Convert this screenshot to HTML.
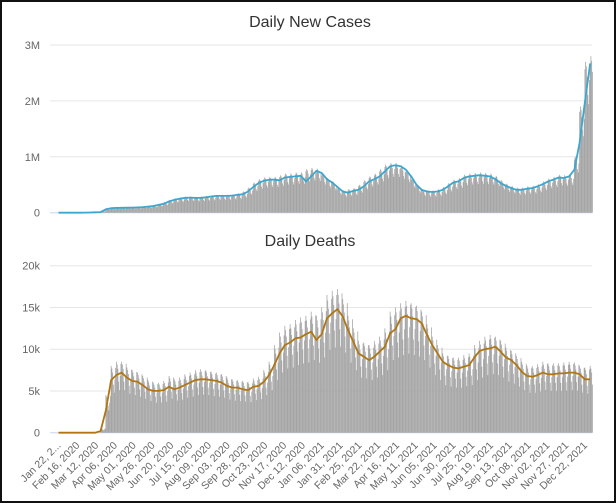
<!DOCTYPE html>
<html><head><meta charset="utf-8"><style>
html,body{margin:0;padding:0;background:#fff;}
#wrap{position:relative;width:612px;height:499px;border:2px solid #111;background:#fff;overflow:hidden;}
svg{position:absolute;left:-2px;top:-2px;}
text{font-family:"Liberation Sans",sans-serif;}
</style></head><body>
<div id="wrap">
<svg id="chart" width="616" height="503"></svg>
</div>
<script>
const dateLabels=["Jan 22, 2...","Feb 16, 2020","Mar 12, 2020","Apr 06, 2020","May 01, 2020","May 26, 2020","Jun 20, 2020","Jul 15, 2020","Aug 09, 2020","Sep 03, 2020","Sep 28, 2020","Oct 23, 2020","Nov 17, 2020","Dec 12, 2020","Jan 06, 2021","Jan 31, 2021","Feb 25, 2021","Mar 22, 2021","Apr 16, 2021","May 11, 2021","Jun 05, 2021","Jun 30, 2021","Jul 25, 2021","Aug 19, 2021","Sep 13, 2021","Oct 08, 2021","Nov 02, 2021","Nov 27, 2021","Dec 22, 2021"];
const casesTicks=[0,1000,2000,3000];
const casesTickLabels=["0","1M","2M","3M"];
const deathTicks=[0,5,10,15,20];
const deathTickLabels=["0","5k","10k","15k","20k"];
// weekly values (thousands), week i starts at day 7*i from Jan 22, 2020
const casesAvg=[0,0,0,0,0,1,3,8,10,60,80,85,88,90,92,95,100,110,120,140,160,200,230,250,265,270,265,265,275,290,300,300,300,305,320,330,380,460,530,570,590,590,580,630,640,650,660,560,650,750,710,600,540,460,380,360,390,410,470,560,600,650,740,830,850,830,770,650,500,410,380,370,380,410,470,540,560,620,650,660,670,660,650,600,530,480,440,410,410,430,440,470,510,560,590,630,620,650,770,1250,1980,2670];
const casesBar=[1,1,2,2,2,3,5,12,30,70,90,95,95,98,100,105,115,125,135,160,190,230,255,270,290,290,285,290,300,310,320,320,320,330,345,380,450,540,600,630,640,640,670,700,700,720,720,780,800,790,700,620,560,450,400,420,440,500,580,650,700,780,860,890,890,840,760,620,500,420,400,400,420,460,530,590,620,680,700,710,720,710,700,660,580,520,480,450,450,470,480,510,560,610,640,680,670,690,1000,1900,2700,2800];
const deathsAvg=[0,0,0,0,0,0,0,0,0.2,2.7,6.3,6.9,7.2,6.6,6.2,6.1,5.7,5.2,5.0,5.0,5.1,5.5,5.2,5.4,5.7,6.0,6.3,6.4,6.4,6.3,6.2,6.0,5.6,5.4,5.4,5.2,5.1,5.5,5.6,6.1,6.9,8.1,9.5,10.5,10.8,11.3,11.4,11.8,12.1,11.1,11.8,13.7,14.3,14.8,13.9,12.3,10.9,9.5,9.1,8.7,9.1,9.7,10.3,11.9,12.4,13.7,14.0,13.7,13.6,13.1,11.7,10.5,9.5,8.5,8.1,7.8,7.7,7.9,8.1,9.0,9.8,10.0,10.1,10.3,9.7,9.0,8.7,8.1,7.3,6.8,6.7,6.9,7.2,7.0,7.0,7.1,7.1,7.2,7.2,7.0,6.4,6.4];
const deathsBar=[0,0,0,0,0,0,0,0,0.5,4.5,8.0,8.5,8.5,7.8,7.5,7.2,6.8,6.3,6.0,6.0,6.2,6.8,6.4,6.6,7.0,7.2,7.5,7.6,7.5,7.3,7.2,7.0,6.6,6.4,6.3,6.2,6.1,6.5,6.7,7.5,8.5,10.5,12.0,12.8,13.0,13.5,13.8,14.0,14.5,14.0,15.0,16.5,17.0,17.2,16.0,14.0,12.5,11.0,10.8,10.5,11.0,11.5,12.5,14.5,15.0,15.5,15.8,15.5,15.2,14.5,13.0,11.5,10.5,9.5,9.2,9.0,9.0,9.3,9.5,10.5,11.0,11.5,11.7,11.5,11.0,10.2,9.8,9.2,8.5,8.0,8.0,8.2,8.5,8.3,8.3,8.3,8.4,8.5,8.4,8.0,7.8,8.0];
// day-of-week reporting pattern (share of weekly peak)
const casesWeekday=[0.95,1.0,0.97,0.9,0.78,0.72,0.88];
const deathsWeekday=[1.0,0.96,0.9,0.72,0.6,0.8,0.97];

const NS="http://www.w3.org/2000/svg";
const svg=document.getElementById('chart');
const X0=58.5,PX=0.752,XEND=592,LEFT=50,TOTALDAYS=710;
function xScale(day){return X0+day*PX;}
function mk(tag,attrs,parent){const e=document.createElementNS(NS,tag);for(const k in attrs)e.setAttribute(k,attrs[k]);(parent||svg).appendChild(e);return e;}

function drawChart(name,title,titleY,y0,yTop,maxV,ticks,tickLabels,bars,wk,avg,color){
  const g=mk('g',{});
  
  
  const yS=v=>y0-(v/maxV)*(y0-yTop);
  const t=mk('text',{x:310,y:titleY,'text-anchor':'middle','font-size':'16',fill:'#333'},g);
  t.textContent=title;
  
  
  ticks.forEach((v,i)=>{
    const y=yS(v);
    const l=mk('line',{x1:LEFT,x2:XEND,y1:y,y2:y,stroke:i==0?'#ccd6eb':'#e6e6e6','stroke-width':1},g);
    
    
    const tx=mk('text',{x:40,y:y+4,'text-anchor':'end','font-size':'11',fill:'#666'},g);
    tx.textContent=tickLabels[i];
    
    
  });
  const bg=mk('g',{fill:'#a4a4a4'},g);
  
  
  for(let d=0;d<=TOTALDAYS;d++){
    const w=Math.min(Math.floor(d/7),bars.length-1);
    const v=bars[w]*wk[d%7];
    const y=yS(v);
    const r=mk('rect',{x:xScale(d)-0.38,y:y,width:0.76,height:Math.max(0,y0-y)},bg);
    
    
  }
  let dstr='';
  avg.forEach((v,i)=>{const day=Math.min(i*7,TOTALDAYS);dstr+=(i?'L':'M')+xScale(day).toFixed(1)+','+yS(v).toFixed(1);});
  const p=mk('path',{d:dstr,fill:'none',stroke:color,'stroke-width':1.8,'stroke-linejoin':'round'},g);
  
  
}
drawChart('daily-new-cases','Daily New Cases',27,212.7,45,3000,casesTicks,casesTickLabels,casesBar,casesWeekday,casesAvg,'#3ba7cf');
drawChart('daily-deaths','Daily Deaths',246,432.7,265.7,20,deathTicks,deathTickLabels,deathsBar,deathsWeekday,deathsAvg,'#b07612');

const xg=mk('g',{});


dateLabels.forEach((lab,i)=>{
  const x=xScale(i*25);
  const t=mk('text',{x:x+3,y:446,'text-anchor':'end','font-size':'10.5',fill:'#666',transform:'rotate(-45 '+(x+3)+' 446)'},xg);
  t.textContent=lab;
  
  
});
</script>
</body></html>
